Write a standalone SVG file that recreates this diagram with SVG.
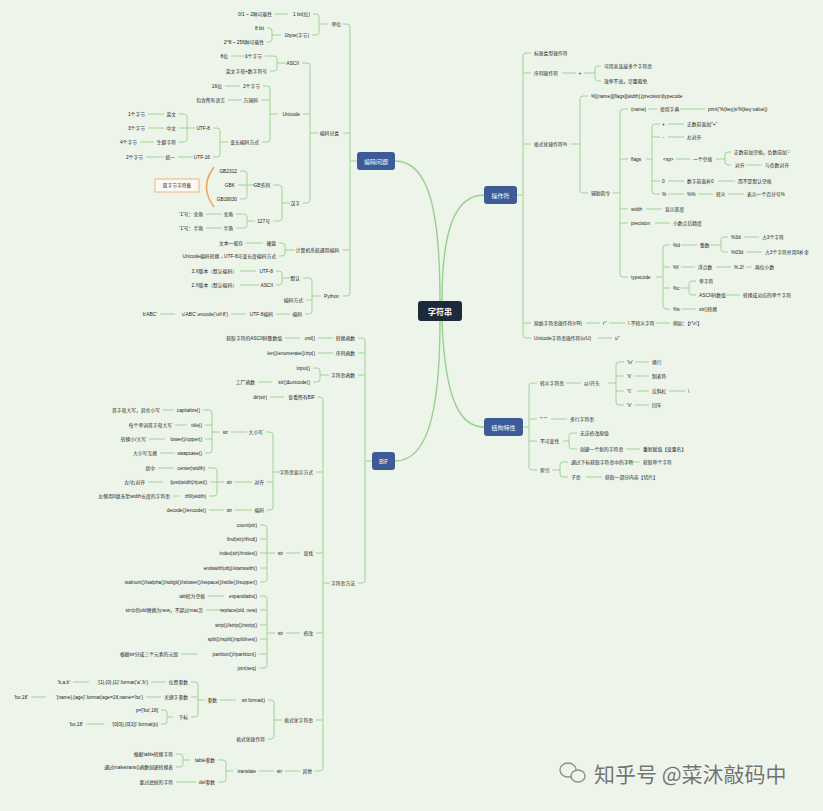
<svg xmlns="http://www.w3.org/2000/svg" width="823" height="811" viewBox="0 0 823 811">
<style>
.t{font-family:"Liberation Sans","Noto Sans CJK SC",sans-serif;font-size:4.8px;fill:#222;dominant-baseline:central}
.e{text-anchor:end}
.c{fill:none;stroke:#97d08f;stroke-width:0.9}
.m{fill:none;stroke:#97d08f;stroke-width:1.4}
.bx{fill:#3d5b96}
.bt{font-family:"Noto Sans CJK SC","Liberation Sans",sans-serif;font-size:6px;fill:#fff;text-anchor:middle;dominant-baseline:central}
</style>
<rect width="823" height="811" fill="#edf5ea"/>
<g id="connectors">
<path class="m" d="M440,301 C440,215 430,161 395,161 M442,301 C442,230 455,195 484,195 M440,321 C440,420 425,461 395,461 M442,321 C445,400 460,427 484,427"/>
<path class="c" d="M343,24 H347 Q350,24 350,27 V293 Q350,296 347,296 H343 M343,133 H350 M343,250 H350 M350,161 H357
M313,14 H316 Q319,14 319,17 V32 Q319,35 316,35 H312 M319,24 H328 M275,14 H288
M267,28 H269 Q272,28 272,31 V39 Q272,42 269,42 H267 M272,35 H281
M302,63 H307 Q310,63 310,66 V200 Q310,203 307,203 H303 M303,114 H310 M310,133 H318
M265,56 H274 Q277,56 277,59 V68 Q277,71 274,71 H270 M277,63 H286 M231,56 H248
M263,86 H267 Q270,86 270,89 V139 Q270,142 267,142 H262 M261,100 H270 M270,114 H278 M225,86 H240 M228,100 H242
M213,128 H217 Q220,128 220,131 V154 Q220,157 217,157 H213 M220,142 H228
M179,114 H184 Q187,114 187,117 V139 Q187,142 184,142 H179 M179,128 H195
M148,114 H164 M148,128 H164 M140,142 H154 M178,157 H193 M146,157 H164
M273,185 H279 Q282,185 282,188 V218 Q282,221 279,221 H273 M282,203 H290
M240,171 H244 Q247,171 247,174 V196 Q247,199 244,199 H240 M238,185 H255
M236,214 H244 Q247,214 247,217 V225 Q247,228 244,228 H236 M247,221 H255 M206,214 H222 M206,228 H222
M279,243 H282 Q285,243 285,246 V253 Q285,256 282,256 H279 M285,250 H295 M246,243 H263
M303,278 H309 Q312,278 312,281 V311 Q312,314 309,314 H305 M306,300 H312 M312,296 H321
M276,271 H279 Q282,271 282,274 V282 Q282,285 279,285 H276 M282,278 H291 M240,271 H256 M240,285 H259
M276,314 H290 M231,314 H246 M160,314 H175
M358,338 H362 Q365,338 365,341 V580 Q365,583 362,583 H358 M358,353 H365 M358,375 H365 M365,461 H372
M318,338 H333 M285,338 H300 M318,353 H333
M313,368 H317 Q320,368 320,371 V379 Q320,382 317,382 H313 M320,375 H329 M258,382 H272
M318,397 H320 Q323,397 323,400 V768 Q323,771 320,771 H315 M316,472 H323 M316,553 H323 M316,633 H323 M316,720 H323 M323,583 H330
M270,397 H284
M266,432 H270 Q273,432 273,435 V507 Q273,510 270,510 H267 M267,482 H273 M273,472 H280 M231,432 H247
M203,410 H209 Q212,410 212,413 V450 Q212,453 209,453 H205 M205,425 H212 M205,439 H212 M212,432 H220
M163,410 H174 M175,425 H187 M149,439 H165 M160,453 H175 M235,482 H252
M208,468 H214 Q217,468 217,471 V493 Q217,496 214,496 H209 M210,482 H224
M158,468 H174 M148,482 H163 M173,496 H179 M235,510 H252 M209,510 H224 M286,553 H300
M260,525 H264 Q267,525 267,528 V579 Q267,582 264,582 H260 M260,539 H267 M260,553 H275 M260,568 H267
M286,633 H300
M260,596 H264 Q267,596 267,599 V665 Q267,668 264,668 H259 M260,610 H267 M260,625 H267 M260,639 H267 M259,654 H267 M267,633 H275
M208,596 H224 M206,610 H222 M181,654 H197
M268,700 H271 Q274,700 274,703 V736 Q274,739 271,739 H268 M274,720 H282 M220,700 H236
M191,682 H195 Q198,682 198,685 V714 Q198,717 195,717 H191 M191,697 H198 M198,700 H205
M151,682 H166 M73,682 H89 M146,697 H161 M31,697 H46
M161,710 H164 Q167,710 167,713 V721 Q167,724 164,724 H161 M167,717 H173 M86,724 H104
M285,771 H300 M259,771 H274
M218,760 H223 Q226,760 226,763 V779 Q226,782 223,782 H218 M226,771 H233
M176,754 H180 Q183,754 183,757 V764 Q183,767 180,767 H176 M183,760 H190 M176,782 H196
M531,53 H526 Q523,53 523,56 V335 Q523,338 526,338 H531 M523,73 H531 M523,144 H531 M523,323 H531 M517,195 H523
M562,73 H576 M584,73 H595 M601,66 H598 Q595,66 595,69 V78 Q595,81 598,81 H601
M571,144 H580 M588,96 H583 Q580,96 580,99 V190 Q580,193 583,193 H588
M613,193 H620 M628,109 H623 Q620,109 620,112 V274 Q620,277 623,277 H628 M620,159 H628 M620,209 H628 M620,223 H628
M648,109 H657 M680,109 H705
M646,159 H652 M660,124 H655 Q652,124 652,127 V191 Q652,194 655,194 H660 M652,137 H660 M652,181 H660
M668,124 H684 M668,137 H684 M676,159 H690
M716,159 H725 M731,152 H728 Q725,152 725,155 V162 Q725,165 728,165 H731 M746,165 H762
M668,181 H684 M718,181 H735 M668,194 H684 M698,194 H713 M728,194 H744
M646,209 H662 M655,223 H670
M656,277 H663 M670,245 H666 Q663,245 663,248 V306 Q663,309 666,309 H670 M663,267 H670 M663,288 H670
M681,245 H697 M710,245 H721 M728,237 H724 Q721,237 721,240 V249 Q721,252 724,252 H728 M744,237 H759 M746,252 H762
M681,267 H695 M716,267 H731 M746,267 H752
M681,288 H689 M696,281 H692 Q689,281 689,284 V292 Q689,295 692,295 H696 M726,295 H740 M681,309 H696
M586,323 H600 M609,323 H625 M656,323 H670 M598,338 H612
M537,383 H532 Q529,383 529,386 V467 Q529,470 532,470 H537 M529,419 H537 M529,441 H537 M523,427 H529
M566,383 H581 M608,383 H616 M624,362 H619 Q616,362 616,365 V402 Q616,405 619,405 H624 M616,376 H624 M616,391 H624
M635,362 H649 M635,376 H649 M637,391 H649 M669,391 H685 M635,405 H649 M551,419 H567
M563,441 H569 M577,433 H572 Q569,433 569,436 V446 Q569,449 572,449 H577 M626,449 H640
M552,470 H560 M568,462 H563 Q560,462 560,465 V474 Q560,477 563,477 H568 M626,462 H640 M586,477 H602"/>
<path d="M214,167 Q199,187 214,207" fill="none" stroke="#f4a15c" stroke-width="1.5"/>
</g>
<g id="center"><rect x="418" y="301" width="44" height="20" rx="3" fill="#1e2a3a"/><text x="440" y="311" style="font-family:'Noto Sans CJK SC',sans-serif;font-size:8px;font-weight:bold;fill:#fff;text-anchor:middle;dominant-baseline:central">字符串</text></g>
<g id="bianma"><rect class="bx" x="357" y="152" width="38" height="18" rx="3"/><text class="bt" x="376" y="161">编码问题</text></g>
<g id="bif"><rect class="bx" x="372" y="452" width="23" height="18" rx="3"/><text class="bt" x="383.5" y="461">BIF</text></g>
<g id="caozuo"><rect class="bx" x="484" y="186" width="33" height="18" rx="3"/><text class="bt" x="500.5" y="195">操作符</text></g>
<g id="jiegou"><rect class="bx" x="484" y="418" width="39" height="18" rx="3"/><text class="bt" x="503.5" y="427">结构特性</text></g>
<g id="sbc"><rect x="155" y="179" width="44" height="13" fill="#fdf8f2" stroke="#f4a15c" stroke-width="0.8"/><text class="t" x="177" y="185.5" style="text-anchor:middle">双字节字符集</text></g>
<g id="left-nodes">
<g id="l1"><text class="t e" x="341" y="24">单位</text></g>
<g id="l2"><text class="t e" x="310" y="14">1 bit(位)</text></g>
<g id="l3"><text class="t e" x="272" y="14">0/1 ~ 2种可能性</text></g>
<g id="l4"><text class="t e" x="309" y="35">1byte(字节)</text></g>
<g id="l5"><text class="t e" x="264" y="28">8 bit</text></g>
<g id="l6"><text class="t e" x="264" y="42">2^8 ~ 256种可能性</text></g>
<g id="l7"><text class="t e" x="339" y="133">编码分类</text></g>
<g id="l8"><text class="t e" x="299" y="63">ASCII</text></g>
<g id="l9"><text class="t e" x="262" y="56">1个字节</text></g>
<g id="l10"><text class="t e" x="228" y="56">8位</text></g>
<g id="l11"><text class="t e" x="267" y="71">英文字母+数字符号</text></g>
<g id="l12"><text class="t e" x="300" y="114">Unicode</text></g>
<g id="l13"><text class="t e" x="260" y="86">2个字节</text></g>
<g id="l14"><text class="t e" x="222" y="86">16位</text></g>
<g id="l15"><text class="t e" x="258" y="100">万国码</text></g>
<g id="l16"><text class="t e" x="225" y="100">包含所有语言</text></g>
<g id="l17"><text class="t e" x="259" y="142">变长编码方式</text></g>
<g id="l18"><text class="t e" x="210" y="128">UTF-8</text></g>
<g id="l19"><text class="t e" x="176" y="114">英文</text></g>
<g id="l20"><text class="t e" x="145" y="114">1个字节</text></g>
<g id="l21"><text class="t e" x="176" y="128">中文</text></g>
<g id="l22"><text class="t e" x="145" y="128">3个字节</text></g>
<g id="l23"><text class="t e" x="176" y="142">生僻字符</text></g>
<g id="l24"><text class="t e" x="137" y="142">4个字节</text></g>
<g id="l25"><text class="t e" x="210" y="157">UTF-16</text></g>
<g id="l26"><text class="t e" x="175" y="157">统一</text></g>
<g id="l27"><text class="t e" x="143" y="157">2个字节</text></g>
<g id="l28"><text class="t e" x="300" y="203">汉字</text></g>
<g id="l29"><text class="t e" x="270" y="185">GB系列</text></g>
<g id="l30"><text class="t e" x="237" y="171">GB2312</text></g>
<g id="l31"><text class="t e" x="235" y="185">GBK</text></g>
<g id="l32"><text class="t e" x="237" y="199">GB18030</text></g>
<g id="l33"><text class="t e" x="270" y="221">127号</text></g>
<g id="l34"><text class="t e" x="233" y="214">全角</text></g>
<g id="l35"><text class="t e" x="203" y="214">'1'号：全角</text></g>
<g id="l36"><text class="t e" x="233" y="228">半角</text></g>
<g id="l37"><text class="t e" x="203" y="228">'1'号：半角</text></g>
<g id="l38"><text class="t e" x="339" y="250">计算机系统通用编码</text></g>
<g id="l39"><text class="t e" x="276" y="243">硬盘</text></g>
<g id="l40"><text class="t e" x="243" y="243">文本一般存</text></g>
<g id="l41"><text class="t e" x="276" y="256">Unicode编码转换→UTF-8可变长度编码方式</text></g>
<g id="l42"><text class="t e" x="339" y="296">Python</text></g>
<g id="l43"><text class="t e" x="300" y="278">默认</text></g>
<g id="l44"><text class="t e" x="273" y="271">UTF-8</text></g>
<g id="l45"><text class="t e" x="237" y="271">3.X版本（默认编码）</text></g>
<g id="l46"><text class="t e" x="273" y="285">ASCII</text></g>
<g id="l47"><text class="t e" x="237" y="285">2.X版本（默认编码）</text></g>
<g id="l48"><text class="t e" x="303" y="300">编码方式</text></g>
<g id="l49"><text class="t e" x="302" y="314">编码</text></g>
<g id="l50"><text class="t e" x="273" y="314">UTF-8编码</text></g>
<g id="l51"><text class="t e" x="228" y="314">u'ABC'.encode('utf-8')</text></g>
<g id="l52"><text class="t e" x="157" y="314">b'ABC'</text></g>
<g id="b1"><text class="t e" x="355" y="338">转换函数</text></g>
<g id="b2"><text class="t e" x="315" y="338">ord()</text></g>
<g id="b3"><text class="t e" x="282" y="338">获取字符的ASCII码整数值</text></g>
<g id="b4"><text class="t e" x="355" y="353">序列函数</text></g>
<g id="b5"><text class="t e" x="315" y="353">len()/enumerate()/zip()</text></g>
<g id="b6"><text class="t e" x="355" y="375">字符串函数</text></g>
<g id="b7"><text class="t e" x="310" y="368">input()</text></g>
<g id="b8"><text class="t e" x="310" y="382">str()&amp;unicode()</text></g>
<g id="b9"><text class="t e" x="255" y="382">工厂函数</text></g>
<g id="b10"><text class="t e" x="355" y="583">字符串方法</text></g>
<g id="b11"><text class="t e" x="315" y="397">查看所有BIF</text></g>
<g id="b12"><text class="t e" x="267" y="397">dir(str)</text></g>
<g id="b13"><text class="t e" x="313" y="472">字符串显示方式</text></g>
<g id="b14"><text class="t e" x="263" y="432">大小写</text></g>
<g id="b15"><text class="t e" x="228" y="432">str</text></g>
<g id="b16"><text class="t e" x="200" y="410">capitalize()</text></g>
<g id="b17"><text class="t e" x="160" y="410">首字母大写，其余小写</text></g>
<g id="b18"><text class="t e" x="202" y="425">title()</text></g>
<g id="b19"><text class="t e" x="172" y="425">每个单词首字母大写</text></g>
<g id="b20"><text class="t e" x="202" y="439">lower()/upper()</text></g>
<g id="b21"><text class="t e" x="146" y="439">转换小/大写</text></g>
<g id="b22"><text class="t e" x="202" y="453">swapcase()</text></g>
<g id="b23"><text class="t e" x="157" y="453">大小写互换</text></g>
<g id="b24"><text class="t e" x="264" y="482">对齐</text></g>
<g id="b25"><text class="t e" x="232" y="482">str</text></g>
<g id="b26"><text class="t e" x="205" y="468">center(width)</text></g>
<g id="b27"><text class="t e" x="155" y="468">居中</text></g>
<g id="b28"><text class="t e" x="207" y="482">ljust(width)/rjust()</text></g>
<g id="b29"><text class="t e" x="145" y="482">左/右对齐</text></g>
<g id="b30"><text class="t e" x="206" y="496">zfill(width)</text></g>
<g id="b31"><text class="t e" x="170" y="496">左侧用0填充至width长度的字符串</text></g>
<g id="b32"><text class="t e" x="264" y="510">编码</text></g>
<g id="b33"><text class="t e" x="232" y="510">str</text></g>
<g id="b34"><text class="t e" x="206" y="510">decode()/encode()</text></g>
<g id="b35"><text class="t e" x="313" y="553">查找</text></g>
<g id="b36"><text class="t e" x="283" y="553">str</text></g>
<g id="b37"><text class="t e" x="257" y="525">count(str)</text></g>
<g id="b38"><text class="t e" x="257" y="539">find(str)/rfind()</text></g>
<g id="b39"><text class="t e" x="257" y="553">index(str)/rindex()</text></g>
<g id="b40"><text class="t e" x="257" y="568">endswith(obj)/startswith()</text></g>
<g id="b41"><text class="t e" x="257" y="582">isalnum()/isalpha()/isdigit()/islower()/isspace()/istitle()/isupper()</text></g>
<g id="b42"><text class="t e" x="313" y="633">修改</text></g>
<g id="b43"><text class="t e" x="283" y="633">str</text></g>
<g id="b44"><text class="t e" x="257" y="596">expandtabs()</text></g>
<g id="b45"><text class="t e" x="205" y="596">tab转为空格</text></g>
<g id="b46"><text class="t e" x="257" y="610">replace(old, new)</text></g>
<g id="b47"><text class="t e" x="203" y="610">str中的old替换为new，不超过max次</text></g>
<g id="b48"><text class="t e" x="257" y="625">strip()/lstrip()/rstrip()</text></g>
<g id="b49"><text class="t e" x="257" y="639">split()/rsplit()/splitlines()</text></g>
<g id="b50"><text class="t e" x="256" y="654">partition()/rpartition()</text></g>
<g id="b51"><text class="t e" x="178" y="654">根据str分成三个元素的元组</text></g>
<g id="b52"><text class="t e" x="256" y="668">join(seq)</text></g>
<g id="b53"><text class="t e" x="313" y="720">格式化字符串</text></g>
<g id="b54"><text class="t e" x="265" y="700">str.format()</text></g>
<g id="b55"><text class="t e" x="217" y="700">参数</text></g>
<g id="b56"><text class="t e" x="188" y="682">位置参数</text></g>
<g id="b57"><text class="t e" x="148" y="682">'{1},{0},{1}'.format('a','b')</text></g>
<g id="b58"><text class="t e" x="70" y="682">'b,a,b'</text></g>
<g id="b59"><text class="t e" x="188" y="697">关键字参数</text></g>
<g id="b60"><text class="t e" x="143" y="697">'{name},{age}'.format(age=18,name='bo')</text></g>
<g id="b61"><text class="t e" x="28" y="697">'bo,18'</text></g>
<g id="b62"><text class="t e" x="188" y="717">下标</text></g>
<g id="b63"><text class="t e" x="158" y="710">p=['bo',18]</text></g>
<g id="b64"><text class="t e" x="158" y="724">'{0[0]},{0[1]}'.format(p)</text></g>
<g id="b65"><text class="t e" x="83" y="724">'bo,18'</text></g>
<g id="b66"><text class="t e" x="265" y="739">格式化操作符</text></g>
<g id="b67"><text class="t e" x="312" y="771">其他</text></g>
<g id="b68"><text class="t e" x="282" y="771">str</text></g>
<g id="b69"><text class="t e" x="256" y="771">translate</text></g>
<g id="b70"><text class="t e" x="215" y="760">table参数</text></g>
<g id="b71"><text class="t e" x="173" y="754">根据table转换字符</text></g>
<g id="b72"><text class="t e" x="173" y="767">通过maketrans()函数创建转换表</text></g>
<g id="b73"><text class="t e" x="215" y="782">del参数</text></g>
<g id="b74"><text class="t e" x="173" y="782">要过滤掉的字符</text></g>
</g>
<g id="right-nodes">
<g id="r1"><text class="t" x="534" y="53">标准类型操作符</text></g>
<g id="r2"><text class="t" x="534" y="73">序列操作符</text></g>
<g id="r3"><text class="t" x="578.5" y="73">+</text></g>
<g id="r4"><text class="t" x="604" y="66">可用来连接多个字符串</text></g>
<g id="r5"><text class="t" x="604" y="81">效率不高，尽量避免</text></g>
<g id="r6"><text class="t" x="534" y="144">格式化操作符%</text></g>
<g id="r7"><text class="t" x="591" y="96">%[(name)][flags][width].[precision]typecode</text></g>
<g id="r8"><text class="t" x="591" y="193">辅助指令</text></g>
<g id="r9"><text class="t" x="631" y="109">(name)</text></g>
<g id="r10"><text class="t" x="660" y="109">使用字典</text></g>
<g id="r11"><text class="t" x="708" y="109">print('%(key)s'%{key:value})</text></g>
<g id="r12"><text class="t" x="631" y="159">flags</text></g>
<g id="r13"><text class="t" x="662" y="124">+</text></g>
<g id="r14"><text class="t" x="687" y="124">正数前面加"+"</text></g>
<g id="r15"><text class="t" x="662.5" y="137">-</text></g>
<g id="r16"><text class="t" x="687" y="137">左对齐</text></g>
<g id="r17"><text class="t" x="663" y="159">&lt;sp&gt;</text></g>
<g id="r18"><text class="t" x="693" y="159">一个空格</text></g>
<g id="r19"><text class="t" x="734" y="152">正数前加空格，负数前加'-'</text></g>
<g id="r20"><text class="t" x="735" y="165">对齐</text></g>
<g id="r21"><text class="t" x="765" y="165">与负数对齐</text></g>
<g id="r22"><text class="t" x="662" y="181">0</text></g>
<g id="r23"><text class="t" x="687" y="181">数字前面补0</text></g>
<g id="r24"><text class="t" x="738" y="181">而不是默认空格</text></g>
<g id="r25"><text class="t" x="662" y="194">%</text></g>
<g id="r26"><text class="t" x="687" y="194">%%</text></g>
<g id="r27"><text class="t" x="716" y="194">转义</text></g>
<g id="r28"><text class="t" x="747" y="194">表示一个百分号%</text></g>
<g id="r29"><text class="t" x="631" y="209">width</text></g>
<g id="r30"><text class="t" x="665" y="209">显示宽度</text></g>
<g id="r31"><text class="t" x="631" y="223">precision</text></g>
<g id="r32"><text class="t" x="673" y="223">小数点后精度</text></g>
<g id="r33"><text class="t" x="631" y="277">typecode</text></g>
<g id="r34"><text class="t" x="673" y="245">%d</text></g>
<g id="r35"><text class="t" x="700" y="245">整数</text></g>
<g id="r36"><text class="t" x="731" y="237">%3d</text></g>
<g id="r37"><text class="t" x="762" y="237">占3个字符</text></g>
<g id="r38"><text class="t" x="731" y="252">%03d</text></g>
<g id="r39"><text class="t" x="765" y="252">占3个字符并用0补全</text></g>
<g id="r40"><text class="t" x="673" y="267">%f</text></g>
<g id="r41"><text class="t" x="698" y="267">浮点数</text></g>
<g id="r42"><text class="t" x="734" y="267">%.2f</text></g>
<g id="r43"><text class="t" x="755" y="267">两位小数</text></g>
<g id="r44"><text class="t" x="673" y="288">%c</text></g>
<g id="r45"><text class="t" x="699" y="281">单字符</text></g>
<g id="r46"><text class="t" x="699" y="295">ASCII码数值</text></g>
<g id="r47"><text class="t" x="743" y="295">转换成对应的单个字符</text></g>
<g id="r48"><text class="t" x="673" y="309">%s</text></g>
<g id="r49"><text class="t" x="699" y="309">str()转换</text></g>
<g id="r50"><text class="t" x="534" y="323">原始字符串操作符(r/R)</text></g>
<g id="r51"><text class="t" x="603" y="323">r''</text></g>
<g id="r52"><text class="t" x="628" y="323">\ 不转义字符</text></g>
<g id="r53"><text class="t" x="673" y="323">例如：【r'\n'】</text></g>
<g id="r54"><text class="t" x="534" y="338">Unicode字符串操作符(u/U)</text></g>
<g id="r55"><text class="t" x="615" y="338">u''</text></g>
<g id="s1"><text class="t" x="540" y="383">转义字符串</text></g>
<g id="s2"><text class="t" x="584" y="383">以\开头</text></g>
<g id="s3"><text class="t" x="627" y="362">'\n'</text></g>
<g id="s4"><text class="t" x="652" y="362">换行</text></g>
<g id="s5"><text class="t" x="627" y="376">'\t'</text></g>
<g id="s6"><text class="t" x="652" y="376">制表符</text></g>
<g id="s7"><text class="t" x="627" y="391">'\\'</text></g>
<g id="s8"><text class="t" x="652" y="391">反斜杠</text></g>
<g id="s9"><text class="t" x="688" y="391">\</text></g>
<g id="s10"><text class="t" x="627" y="405">'\r'</text></g>
<g id="s11"><text class="t" x="652" y="405">回车</text></g>
<g id="s12"><text class="t" x="540" y="419">''' '''</text></g>
<g id="s13"><text class="t" x="570" y="419">多行字符串</text></g>
<g id="s14"><text class="t" x="540" y="441">不可变性</text></g>
<g id="s15"><text class="t" x="580" y="433">无法修改原值</text></g>
<g id="s16"><text class="t" x="580" y="449">创建一个新的字符串</text></g>
<g id="s17"><text class="t" x="643" y="449">重新赋值【变量名】</text></g>
<g id="s18"><text class="t" x="540" y="470">索引</text></g>
<g id="s19"><text class="t" x="571" y="462">通过下标获取字符串中的字符</text></g>
<g id="s20"><text class="t" x="643" y="462">获取单个字符</text></g>
<g id="s21"><text class="t" x="571" y="477">子串</text></g>
<g id="s22"><text class="t" x="605" y="477">获取一部分内容【切片】</text></g>
</g>
<g id="watermark" opacity="0.8">
<ellipse cx="568" cy="770" rx="8" ry="7" fill="none" stroke="#777" stroke-width="1.4"/>
<ellipse cx="578" cy="776" rx="7" ry="6" fill="#edf5ea" stroke="#777" stroke-width="1.4"/>
<text x="594" y="782" style="font-family:'Noto Sans CJK SC',sans-serif;font-size:21px;fill:#555;stroke:#fff;stroke-width:0.6;paint-order:stroke">知乎号 @菜沐敲码中</text>
</g>
</svg>
